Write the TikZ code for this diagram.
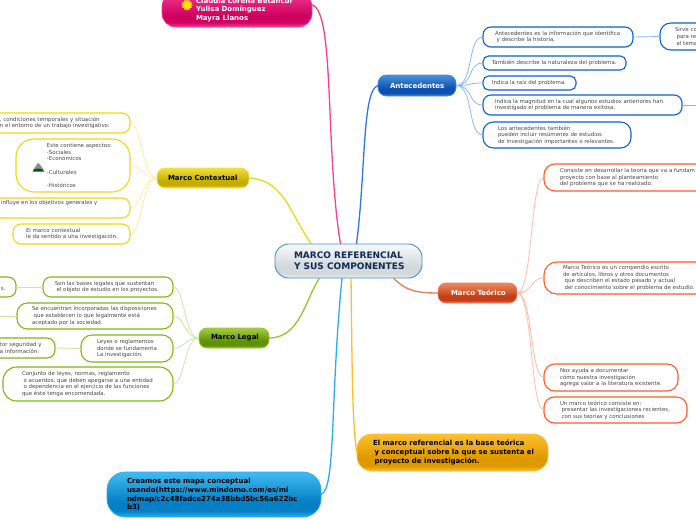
\documentclass[tikz,border=0pt]{standalone}
\usepackage{fontspec}
\setmainfont{DejaVu Sans}
\usetikzlibrary{shapes.geometric}
\definecolor{antT}{HTML}{4A90DC}\definecolor{antD}{HTML}{0B4FB0}\definecolor{antL}{HTML}{3F88DC}
\definecolor{teoT}{HTML}{F08A5C}\definecolor{teoD}{HTML}{C43F18}\definecolor{teoL}{HTML}{EE7A50}
\definecolor{conT}{HTML}{F0E040}\definecolor{conD}{HTML}{C4AC00}\definecolor{conL}{HTML}{F2E040}
\definecolor{legT}{HTML}{A8CC48}\definecolor{legD}{HTML}{5E9200}\definecolor{legL}{HTML}{96C430}
\definecolor{magT}{HTML}{F2388E}\definecolor{magD}{HTML}{D00060}\definecolor{magL}{HTML}{F8408F}
\definecolor{oraT}{HTML}{FDC030}\definecolor{oraD}{HTML}{DE9800}\definecolor{oraL}{HTML}{FBC030}
\definecolor{cyaT}{HTML}{42BAF0}\definecolor{cyaD}{HTML}{0580C6}\definecolor{cyaL}{HTML}{28AEEE}
\definecolor{cenT}{HTML}{F8FAFB}\definecolor{cenD}{HTML}{D2D8DC}\definecolor{cenL}{HTML}{E8ECEE}
\definecolor{antB}{HTML}{0B60D2}\definecolor{teoB}{HTML}{FF5A28}\definecolor{conB}{HTML}{F0D810}\definecolor{legB}{HTML}{80B812}
\definecolor{antC}{HTML}{8CBAF0}\definecolor{teoC}{HTML}{FFBCA6}\definecolor{conC}{HTML}{FBEFA4}\definecolor{legC}{HTML}{CFE6A2}
\definecolor{cenB}{HTML}{3F92D2}\definecolor{navy}{HTML}{0F2A55}
\newcommand\myshade[4]{\pgfdeclareverticalshading{#1}{100bp}{color(0bp)=(#4); color(25bp)=(#4); color(32bp)=(#3); color(42bp)=(#3); color(75bp)=(#2); color(100bp)=(#2)}}
\myshade{antS}{antT}{antD}{antL}\myshade{teoS}{teoT}{teoD}{teoL}\myshade{conS}{conT}{conD}{conL}
\myshade{legS}{legT}{legD}{legL}\myshade{magS}{magT}{magD}{magL}\myshade{oraS}{oraT}{oraD}{oraL}
\myshade{cyaS}{cyaT}{cyaD}{cyaL}\myshade{cenS}{cenT}{cenD}{cenL}
\tikzset{
  leafbase/.style={inner sep=0pt,outer sep=0pt,line width=1.1pt,text=black!72,font=\fontsize{5.45}{6.6}\selectfont},
  aleaf/.style={leafbase,draw=antB},tleaf/.style={leafbase,draw=teoB},cleaf/.style={leafbase,draw=conB},gleaf/.style={leafbase,draw=legB},
  topic/.style={inner sep=0pt,outer sep=0pt,line width=0.7pt,text=black,font=\fontsize{7}{8.6}\selectfont\bfseries},
  atopic/.style={topic,draw=antL,shading=antS,text=white},ttopic/.style={topic,draw=teoL,shading=teoS,text=white},
  ctopic/.style={topic,draw=conL,shading=conS},gtopic/.style={topic,draw=legL,shading=legS},
  mtopic/.style={topic,draw=magL,shading=magS,text=white},otopic/.style={topic,draw=oraL,shading=oraS},
  ytopic/.style={topic,draw=cyaL,shading=cyaS},
  hub/.style={topic,draw=cenB,line width=0.9pt,shading=cenS,text=navy,font=\fontsize{9}{11}\selectfont\bfseries},
  link/.style={line width=1.3pt},
  twig/.style={line width=0.8pt},
}
% style, x0,y0,x1,y1, text x, name, text
\newcommand\mybox[9][0.4]{%
  \pgfmathsetmacro\w{#5-#3}\pgfmathsetmacro\h{#6-#4}%
  \pgfmathsetmacro\cx{(#3+#5)/2}\pgfmathsetmacro\cy{(#4+#6)/2}%
  \pgfmathsetmacro\off{#7-#3}\pgfmathsetmacro\rr{min(#1*\h,18)}%
  \node[#2,rounded corners=\rr pt,minimum width=\w pt,minimum height=\h pt] (#8) at (\cx,\cy) {\makebox[\w pt][l]{\hspace{\off pt}\parbox[c]{380pt}{\raggedright #9}}};}
\newcommand\ind{\hspace*{1.6pt}}
\begin{document}
\begin{tikzpicture}[x=1pt,y=-1pt]
\useasboundingbox (0,0) rectangle (696,520);
\clip (0,0) rectangle (696,520);
\fill[white] (0,0) rectangle (696,520);
% topics
\mybox{hub}{275}{244}{422}{278}{294}{ctr}{MARCO REFERENCIAL\\Y SUS COMPONENTES}
\mybox{atopic}{378}{75}{456}{96}{390}{ant}{Antecedentes}
\mybox{ttopic}{438}{283}{517}{303}{451}{teo}{Marco Teórico}
\mybox{ctopic}{157}{168}{249}{188}{168}{con}{Marco Contextual}
\mybox{gtopic}{199}{328}{269}{348}{211}{leg}{Marco Legal}
\mybox{mtopic}{162}{-7}{312}{27}{196}{mag}{Claudia Lorena Betancur\\Yulisa Domínguez\\Mayra Llanos}
\mybox{otopic}{357}{434}{548}{471}{373}{ora}{El marco referencial es la base teórica\\\ind y conceptual sobre la que se sustenta el\\\ind proyecto de investigación.}
\mybox{ytopic}{107}{472}{321}{517}{127}{cya}{Creamos este mapa conceptual\\usando(https://www.mindomo.com/es/mi\\ndmap/c2c48fadce274a38bbd5bc56a622bc\\b3)}
% main links
\coordinate (magout) at (312,5);
\draw[link,draw=magL] (magout) .. controls (335,10) and (325,150) .. ([xshift=-8pt]ctr.north);
\draw[link,draw=antB!85] (ant.west) .. controls (362,90) and (366,170) .. ([xshift=8pt]ctr.north);
\draw[link,draw=conB] (con.east) .. controls (285,180) and (290,215) .. ([xshift=-37pt]ctr.north);
\draw[link,draw=legL] (leg.east) .. controls (300,338) and (305,300) .. ([xshift=-29pt]ctr.south);
\draw[link,draw=teoL] (teo.west) .. controls (415,293) and (405,290) .. ([xshift=45pt]ctr.south);
\draw[link,draw=oraL] (ora.west) .. controls (352,430) and (352,350) .. ([xshift=2.5pt]ctr.south);
\draw[link,draw=cyaL] (cya.east) .. controls (336,490) and (330,400) .. ([xshift=-6.5pt]ctr.south);
% antecedentes leaves
\mybox{aleaf}{483}{27}{633}{47}{495}{a1}{Antecedentes es la información que identifica\\\ind y describe la historia.}
\mybox{aleaf}{660}{23}{780}{50}{675}{a1s}{Sirve co\\\ind para re\\\ind el tema}
\mybox{aleaf}{483}{56}{626}{70}{492}{a2}{También describe la naturaleza del problema.}
\mybox{aleaf}{483}{76}{576}{90}{492}{a3}{Indica la raíz del problema.}
\mybox{aleaf}{483}{95}{682}{115}{495}{a4}{Indica la magnitud en la cual algunos estudios anteriores han\\investigado el problema de manera exitosa.}
\mybox{aleaf}{483}{122}{631}{148}{498}{a5}{Los antecedentes también\\pueden incluir resúmenes de estudios\\de investigación importantes o relevantes.}
\coordinate (a4s) at (700,105);
\foreach \n in {a1,a2,a3,a4,a5}{\draw[twig,draw=antC] (ant.east) .. controls +(18,0) and +(-16,0) .. (\n.west);}
\draw[twig,draw=antC] (a1.east) -- (a1s.west);
\draw[twig,draw=antC] (a4.east) -- (a4s);
% teorico leaves
\mybox{tleaf}{544}{164}{780}{191}{560}{t1}{Consiste en desarrollar la teoría que va a fundam\\proyecto con base al planteamiento\\del problema que se ha realizado.}
\mybox{tleaf}{544}{262}{720}{294}{563}{t2}{Marco Teórico es un compendio escrito\\de artículos, libros y otros documentos\\\ind que describen el estado pasado y actual\\\ind del conocimiento sobre el problema de estudio.}
\mybox{tleaf}{544}{364}{678}{391}{560}{t3}{Nos ayuda a documentar\\cómo nuestra investigación\\agrega valor a la literatura existente.}
\mybox{tleaf}{544}{397}{687}{423}{560}{t4}{Un marco teórico consiste en:\\\ind presentar las investigaciones recientes,\\\ind con sus teorías y conclusiones}
\foreach \n in {t1,t2,t3,t4}{\draw[twig,draw=teoC] (teo.east) .. controls +(16,0) and +(-14,0) .. (\n.west);}
% contextual leaves
\mybox{cleaf}{-100}{113}{130}{133}{0}{c1}{, condiciones temporales y situación\\n el entorno de un trabajo investigativo.}
\mybox{cleaf}{16}{139}{130}{192}{47}{c2}{Este contiene aspectos:\\-Sociales\\-Económicos\\[6.6pt]-Culturales\\[6.6pt]-Históricos}
\mybox{cleaf}{-100}{198}{130}{218}{1}{c3}{influye en los objetivos generales y\\[5pt]\ }
\mybox{cleaf}{13}{224}{130}{244}{26}{c4}{El marco contextual\\le da sentido a una investigación.}
\foreach \n in {c1,c2,c3,c4}{\draw[twig,draw=conC] (con.west) .. controls +(-15,0) and +(12,0) .. (\n.east);}
\fill[black!45] (33,170) -- (38,163) -- (39.5,164) -- (44,170) -- cycle;
\fill[green!35!black] (32.5,171.5) .. controls (34,167.5) and (42,167.5) .. (44.5,171.5) -- cycle;
% legal leaves
\mybox{gleaf}{43}{277}{173}{297}{55}{g1}{Son las bases legales que sustentan\\\ind el objeto de estudio en los proyectos.}
\mybox{gleaf}{-60}{277}{16}{297}{1}{g1s}{\ \\s.}
\mybox{gleaf}{17}{303}{173}{329}{32}{g2}{Se encuentran incorporadas las disposiciones\\\ind que establecen lo que legalmente está\\aceptado por la sociedad.}
\mybox{gleaf}{81}{335}{173}{362}{97}{g3}{Leyes o reglamentos\\donde se fundamenta\\La investigación.}
\mybox{gleaf}{-60}{338}{55}{358}{0}{g3s}{tor seguridad y\\a información.}
\mybox{gleaf}{3}{367}{173}{401}{22}{g4}{Conjunto de leyes, normas, reglamento\\\ind o acuerdos, que deben apegarse a una entidad\\\ind o dependencia en el ejercicio de las funciones\\que éste tenga encomendada.}
\foreach \n in {g1,g2,g3,g4}{\draw[twig,draw=legC] (leg.west) .. controls +(-15,0) and +(12,0) .. (\n.east);}
\coordinate (g2s) at (-2,316);
\draw[twig,draw=legC] (g1.west) -- (g1s.east);
\draw[twig,draw=legC] (g2.west) -- (g2s);
\draw[twig,draw=legC] (g3.west) -- (g3s.east);
% sun icon
\node[star,star points=12,star point ratio=1.35,fill=yellow!85!orange,draw=orange!80,line width=0.3pt,minimum size=11pt,inner sep=0pt] (sun) at (187,5) {};
\end{tikzpicture}
\end{document}
